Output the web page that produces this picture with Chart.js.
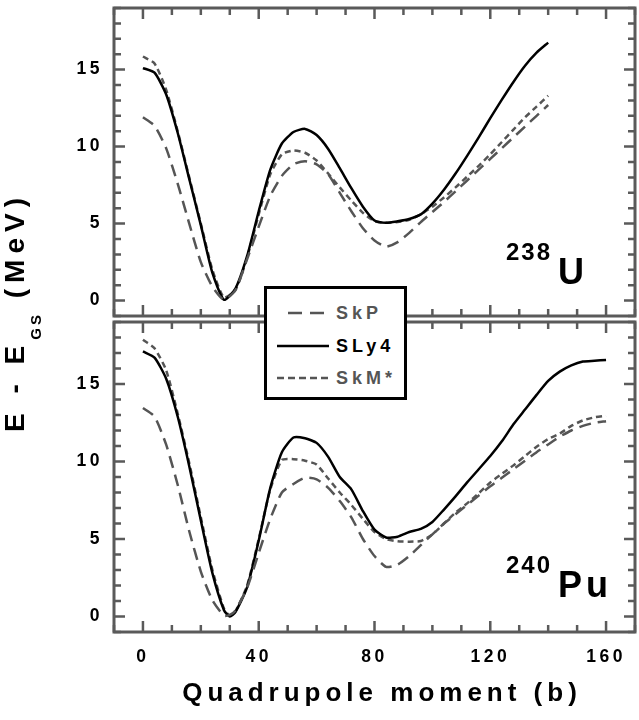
<!DOCTYPE html>
<html>
<head>
<meta charset="utf-8">
<title>Fission barriers 238U / 240Pu</title>
<script src="https://cdn.jsdelivr.net/npm/chart.js@4.4.1/dist/chart.umd.min.js"></script>
<style>
  html, body { margin: 0; padding: 0; background: #fff; }
  #wrap { position: relative; width: 639px; height: 720px; overflow: hidden;
          font-family: "Liberation Sans", Arial, sans-serif; }
  canvas { position: absolute; left: 0; }
  #chartU { top: 0; }
  #chartPu { top: 316px; }
  #ytitle { position: absolute; left: 0; top: 0; width: 260px; height: 30px; line-height: 30px;
            text-align: center; white-space: nowrap; font-size: 28px; font-weight: bold;
            letter-spacing: 6px; color: #000;
            transform: translate(-115px, 297px) rotate(-90deg); }
  #ytitle sub { font-size: 15px; letter-spacing: 3px; vertical-align: baseline;
                position: relative; top: 17px; }
  #xtitle { position: absolute; left: 132px; width: 500px; top: 677px; text-align: center;
            font-size: 26px; font-weight: bold; letter-spacing: 5px; line-height: 30px; }
  #legend { position: absolute; left: 264px; top: 286px; width: 143px; height: 114px;
            box-sizing: border-box; border: 3px solid #000; background: #fff; }
  #legend .row { position: absolute; left: 0; height: 24px; width: 140px; }
  #legend svg { position: absolute; left: 10px; top: 0; }
  #legend span { position: absolute; left: 69px; top: 0; line-height: 24px;
                 font-size: 18px; font-weight: bold; letter-spacing: 4px; }
</style>
</head>
<body>
<div id="wrap">
  <canvas id="chartU" width="639" height="320"></canvas>
  <canvas id="chartPu" width="639" height="404"></canvas>
  <div id="ytitle">E - E<sub>GS</sub> (MeV)</div>
  <div id="xtitle">Quadrupole moment (b)</div>
  <div id="legend">
    <div class="row" style="top:12px">
      <svg width="56" height="24"><line x1="11" y1="12" x2="50" y2="12" stroke="#555" stroke-width="2.5" stroke-dasharray="14 8"/></svg>
      <span style="color:#555">SkP</span>
    </div>
    <div class="row" style="top:45px">
      <svg width="56" height="24"><line x1="0" y1="12" x2="52" y2="12" stroke="#000" stroke-width="2.5"/></svg>
      <span style="color:#000">SLy4</span>
    </div>
    <div class="row" style="top:77px">
      <svg width="56" height="24"><line x1="0" y1="12" x2="52" y2="12" stroke="#555" stroke-width="2.5" stroke-dasharray="7 4"/></svg>
      <span style="color:#555">SkM*</span>
    </div>
  </div>
</div>
<script>
const FONT = "'Liberation Sans', Arial, sans-serif";
const GRAY = "#555";
const FRAME = "#5a5a5a";

/* tick labels */
const xLabels = [0, 40, 80, 120, 160];
const yLabels = [0, 5, 10, 15];

/* 238U : quadrupole moment (b) and energies (MeV) */
const qU = [0, 4, 8, 12, 16, 20, 24, 28, 32, 36, 40, 44, 48, 52, 56, 60, 64, 68,
  72, 76, 80, 84, 88, 92, 96, 100, 104, 108, 112, 116, 120, 124, 128, 132, 136, 140];
const skpU = [11.9, 11.35, 9.9, 7.6, 5.0, 2.5, 0.9, 0.05, 0.7, 2.7, 4.8, 6.8, 8.1, 8.85, 9.05, 8.85, 8.2, 7.0,
  5.8, 4.7, 3.9, 3.5, 3.8, 4.4, 5.1, 5.75, 6.4, 7.1, 7.8, 8.5, 9.2, 9.9, 10.6, 11.3, 12.0, 12.7];
const sly4U = [15.1, 14.8, 13.4, 10.9, 7.9, 4.9, 1.8, 0.05, 0.8, 2.9, 5.8, 8.5, 10.2, 10.95, 11.15, 10.75, 9.85, 8.6,
  7.3, 6.1, 5.2, 5.05, 5.15, 5.3, 5.6, 6.3, 7.2, 8.25, 9.4, 10.6, 11.85, 13.05, 14.2, 15.25, 16.1, 16.75];
const skmU = [15.85, 15.4, 13.7, 11.0, 8.0, 5.0, 2.0, 0.2, 0.7, 2.8, 5.6, 8.2, 9.5, 9.75, 9.6, 9.1, 8.25, 7.35,
  6.5, 5.7, 5.15, 5.05, 5.1, 5.25, 5.6, 6.1, 6.7, 7.35, 8.05, 8.75, 9.5, 10.3, 11.1, 11.9, 12.6, 13.3];

/* 240Pu */
const qPu = [0, 4, 8, 12, 16, 20, 24, 28, 30, 32, 36, 40, 44, 48, 52, 56, 60, 64, 68, 72, 76,
  80, 84, 88, 92, 96, 100, 104, 108, 112, 116, 120, 124, 128, 132, 136, 140, 144, 148, 152, 156, 160];
const skpPu = [13.45, 12.9, 11.1, 8.5, 5.5, 2.9, 1.05, 0.05, 0.1, 0.4, 1.85, 4.1, 6.3, 8.0, 8.55, 8.95, 8.85, 8.3, 7.45, 6.4, 5.0,
  3.9, 3.2, 3.35, 3.9, 4.6, 5.3, 6.0, 6.6, 7.2, 7.8, 8.4, 8.95, 9.5, 10.05, 10.6, 11.1, 11.6, 12.0, 12.3, 12.5, 12.6];
const sly4Pu = [17.1, 16.7, 15.35, 12.9, 9.7, 6.2, 2.8, 0.4, 0.0, 0.3, 1.9, 4.9, 8.3, 10.6, 11.55, 11.5, 11.2, 10.3, 9.0, 8.2, 6.8,
  5.6, 5.1, 5.15, 5.45, 5.65, 6.1, 6.9, 7.75, 8.65, 9.5, 10.35, 11.3, 12.4, 13.35, 14.3, 15.2, 15.8, 16.2, 16.45, 16.5, 16.55];
const skmPu = [17.85, 17.3, 15.9, 13.1, 9.9, 6.4, 3.0, 0.5, 0.05, 0.35, 2.0, 5.0, 8.2, 10.1, 10.15, 10.05, 9.8, 8.9, 8.0, 7.2, 6.3,
  5.45, 5.0, 4.85, 4.83, 4.87, 5.3, 6.0, 6.7, 7.3, 7.95, 8.65, 9.2, 9.75, 10.35, 10.95, 11.45, 11.8, 12.3, 12.65, 12.85, 12.95];

const toPoints = (q, e) => q.map((v, i) => ({ x: v, y: e[i] }));

const lineSet = (label, q, e, color, dash) => ({
  label: label,
  data: toPoints(q, e),
  borderColor: color,
  borderDash: dash,
  borderWidth: 2.5,
  pointRadius: 0,
  tension: 0.2,
  fill: false,
});

/* no extra room for half labels at the axis ends */
const noPad = (s) => {
  s.paddingTop = 0;
  s.paddingBottom = 0;
  s.paddingLeft = 0;
  s.paddingRight = 0;
};

/* frame with inward ticks on all four sides, plus the nucleus label */
const frameTicks = {
  id: "frameTicks",
  beforeDraw(chart) {
    chart.ctx.letterSpacing = "3.5px";
  },
  afterDraw(chart) {
    const { ctx, chartArea: a, scales: { x, y } } = chart;
    ctx.save();
    ctx.letterSpacing = "0px";
    ctx.strokeStyle = FRAME;
    ctx.lineWidth = 2.5;
    ctx.beginPath();
    for (let v = x.min; v <= x.max; v += 10) {
      const px = x.getPixelForValue(v);
      const len = v % 40 === 0 ? 11 : 7;
      ctx.moveTo(px, a.top); ctx.lineTo(px, a.top + len);
      ctx.moveTo(px, a.bottom); ctx.lineTo(px, a.bottom - len);
    }
    for (let v = y.min; v <= y.max; v += 1) {
      const py = y.getPixelForValue(v);
      const len = v % 5 === 0 ? 11 : 7;
      ctx.moveTo(a.left, py); ctx.lineTo(a.left + len, py);
      ctx.moveTo(a.right, py); ctx.lineTo(a.right - len, py);
    }
    ctx.stroke();
    ctx.lineWidth = 3;
    ctx.strokeRect(a.left, a.top, a.right - a.left, a.bottom - a.top);

    const nuc = chart.options.plugins.nucleus;
    ctx.fillStyle = "#000";
    ctx.textBaseline = "alphabetic";
    ctx.textAlign = "left";
    ctx.letterSpacing = "2px";
    ctx.font = "bold 24px " + FONT;
    ctx.fillText(nuc.mass, 506, nuc.base - 24);
    ctx.letterSpacing = "4px";
    ctx.font = "bold 36px " + FONT;
    ctx.fillText(nuc.sym, 558, nuc.base);
    ctx.restore();
  },
};

const makeChart = (id, q, skp, sly4, skm, opt) => {
  const el = document.getElementById(id);
  return new Chart(el, {
    type: "line",
    data: {
      datasets: [
        lineSet("SkP", q, skp, GRAY, [12, 7]),
        lineSet("SLy4", q, sly4, "#000", []),
        lineSet("SkM*", q, skm, GRAY, [6, 4]),
      ],
    },
    options: {
      responsive: false,
      animation: false,
      layout: { padding: opt.padding },
      plugins: {
        legend: { display: false },
        tooltip: { enabled: false },
        nucleus: opt.nucleus,
      },
      scales: {
        x: {
          type: "linear",
          min: -10,
          max: 170,
          display: opt.showX,
          grid: { display: false },
          border: { display: false },
          afterFit: (s) => {
            s.height = opt.showX ? 88 : 0;
            noPad(s);
          },
          ticks: {
            stepSize: 10,
            autoSkip: false,
            maxRotation: 0,
            padding: 7,
            color: "#000",
            font: { family: FONT, size: 17.5, weight: "bold" },
            callback: (v) => (xLabels.includes(v) ? v : ""),
          },
        },
        y: {
          type: "linear",
          min: -1,
          max: 19,
          grid: { display: false },
          border: { display: false },
          afterFit: (s) => {
            s.width = 114;
            noPad(s);
          },
          ticks: {
            stepSize: 1,
            autoSkip: false,
            padding: 3,
            color: "#000",
            font: { family: FONT, size: 17.5, weight: "bold" },
            callback: (v) => (yLabels.includes(v) ? v : ""),
          },
        },
      },
    },
    plugins: [frameTicks],
  });
};

document.addEventListener("DOMContentLoaded", () => {
  try {
    makeChart("chartU", qU, skpU, sly4U, skmU, {
      showX: false,
      padding: { left: 0, right: 4, top: 8, bottom: 4 },
      nucleus: { mass: "238", sym: "U", base: 284 },
    });
    makeChart("chartPu", qPu, skpPu, sly4Pu, skmPu, {
      showX: true,
      padding: { left: 0, right: 4, top: 6, bottom: 0 },
      nucleus: { mass: "240", sym: "Pu", base: 597 - 316 },
    });
  } catch (error) {
    console.log(error);
  }
});
</script>
</body>
</html>
